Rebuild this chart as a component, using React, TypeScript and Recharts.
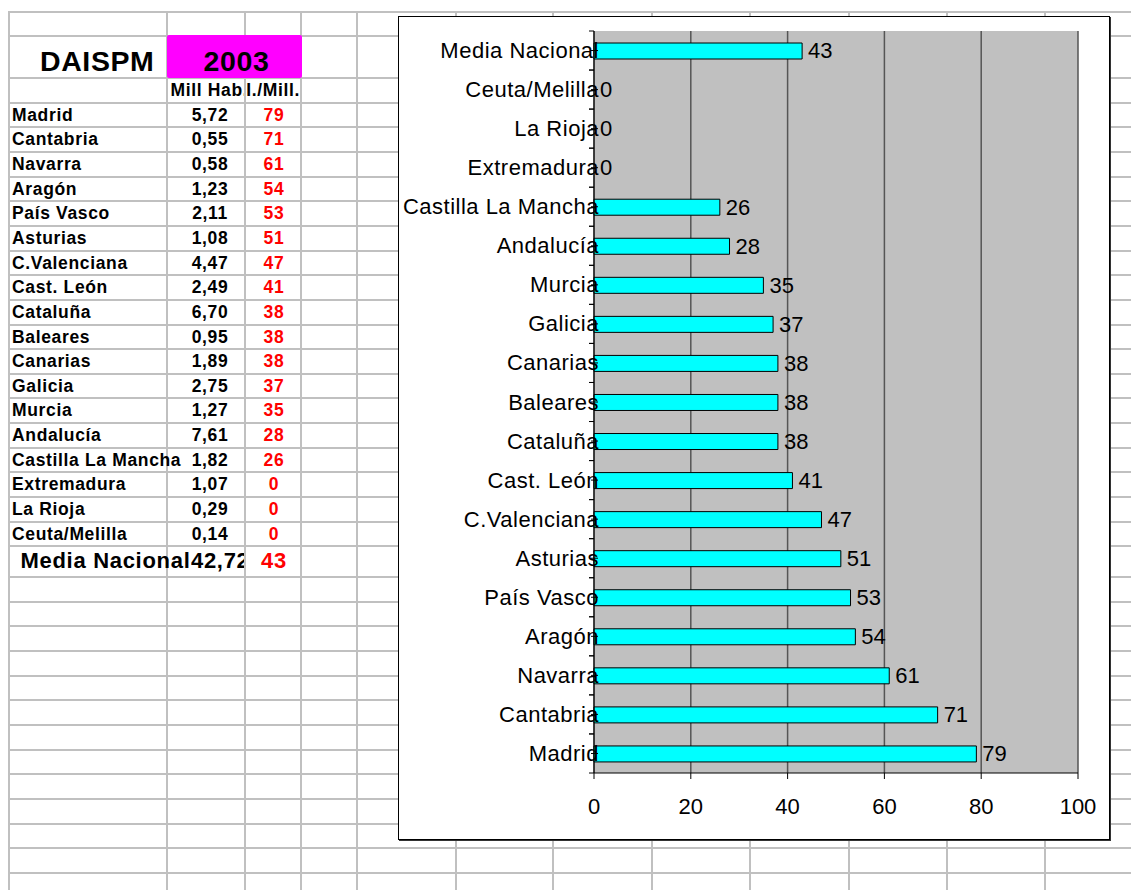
import React from 'react';
import { ComposedChart, Bar, Line, XAxis, YAxis, CartesianGrid, LabelList } from 'recharts';

// DAISPM 2003 per region
const regions = [
  'Madrid', 'Cantabria', 'Navarra', 'Aragón', 'País Vasco', 'Asturias', 'C.Valenciana',
  'Cast. León', 'Cataluña', 'Baleares', 'Canarias', 'Galicia', 'Murcia', 'Andalucía',
  'Castilla La Mancha', 'Extremadura', 'La Rioja', 'Ceuta/Melilla',
];
const millHab = [5.72, 0.55, 0.58, 1.23, 2.11, 1.08, 4.47, 2.49, 6.7, 0.95, 1.89, 2.75, 1.27, 7.61, 1.82, 1.07, 0.29, 0.14];
const perMill = [79, 71, 61, 54, 53, 51, 47, 41, 38, 38, 38, 37, 35, 28, 26, 0, 0, 0];
const mediaName = 'Media Nacional';
const mediaMillHab = 42.72;
const mediaPerMill = 43;
const xTicks = [0, 20, 40, 60, 80, 100];

const chartData = [
  ...regions.map((name, i) => ({ name, value: perMill[i] })),
  { name: mediaName, value: mediaPerMill },
];

const FONT = '"Liberation Sans", Arial, Helvetica, sans-serif';
const GRID = '#c0c0c0';

// sheet layout
const COLS = [9, 167, 245, 301, 357, 456, 553, 652, 750, 849, 947, 1045];
const ROW_H = 24.65;
const FIRST_DATA = 78 + ROW_H;
const MEDIA_TOP = 78 + ROW_H * 19;
const MEDIA_BOTTOM = 577;
const MEDIA_H = MEDIA_BOTTOM - MEDIA_TOP;

const rowLines: number[] = [12, 36, 78];
for (let i = 1; i <= 19; i++) rowLines.push(78 + ROW_H * i);
for (let y = MEDIA_BOTTOM; y < 900; y += ROW_H) rowLines.push(y);

const fmt = (v: number) => v.toFixed(2).replace('.', ',');

const PLOT_H = 742;
const BAND = PLOT_H / chartData.length;

// category label, the between-category tick marks and a small cross mark
const CategoryTick = (props: any) => {
  const { x, y, payload } = props;
  return (
    <g>
      <line x1={x - 5} x2={x} y1={y - BAND / 2} y2={y - BAND / 2} stroke="#000" />
      <line x1={x - 5} x2={x} y1={y + BAND / 2} y2={y + BAND / 2} stroke="#000" />
      <line x1={x - 3} x2={x + 4} y1={y} y2={y} stroke="#000" />
      <text x={x + 5} y={y} textAnchor="end" dominantBaseline="central" fontSize={22} letterSpacing={0.5} fill="#000">
        {payload.value}
      </text>
    </g>
  );
};

const Txt = ({ left, top, width, height, align = 'left', style, children }: any) => (
  <div
    style={{
      position: 'absolute', left, top, width, height, lineHeight: `${height}px`,
      textAlign: align, whiteSpace: 'nowrap', fontWeight: 'bold', fontSize: 17.5,
      letterSpacing: 0.65, ...style,
    }}
  >
    {children}
  </div>
);

export default function App() {
  return (
    <div style={{ position: 'absolute', left: 0, top: 0, width: 1131, height: 890, overflow: 'hidden', background: '#fff', fontFamily: FONT }}>
      {/* sheet grid */}
      {rowLines.map((y, i) => (
        <div key={`r${i}`} style={{ position: 'absolute', left: 8, top: y - 1, width: 1131, height: 2, background: GRID }} />
      ))}
      {COLS.map((x, i) => (
        <div key={`c${i}`} style={{ position: 'absolute', left: x - 1, top: 11, width: 2, height: 890, background: GRID }} />
      ))}

      {/* title cells */}
      <div style={{ position: 'absolute', left: 167, top: 35, width: 135, height: 43, background: '#ff00ff', borderRadius: 2 }} />
      <Txt left={40} top={40} width={125} height={42} style={{ fontSize: 28.5, letterSpacing: 0.6 }}>DAISPM</Txt>
      <Txt left={169} top={40} width={135} height={42} align="center" style={{ fontSize: 28.5, letterSpacing: 0.6 }}>2003</Txt>
      <div style={{ position: 'absolute', left: 170, top: 78, width: 74, height: ROW_H, overflow: 'hidden' }}>
        <Txt left={0.5} top={0} width={90} height={ROW_H}>Mill Hab.</Txt>
      </div>
      <div style={{ position: 'absolute', left: 245, top: 78, width: 56, height: ROW_H, overflow: 'hidden' }}>
        <Txt left={-40} top={0} width={95} height={ROW_H} align="right">I./Mill.</Txt>
      </div>

      {/* region rows */}
      {regions.map((name, i) => {
        const top = FIRST_DATA + ROW_H * i;
        return (
          <React.Fragment key={name}>
            <Txt left={12} top={top} width={200} height={ROW_H}>{name}</Txt>
            <Txt left={170} top={top} width={80} height={ROW_H} align="center">{fmt(millHab[i])}</Txt>
            <Txt left={246} top={top} width={56} height={ROW_H} align="center" style={{ color: '#ff0000' }}>{perMill[i]}</Txt>
          </React.Fragment>
        );
      })}

      {/* national average row */}
      <Txt left={20.5} top={MEDIA_TOP} width={200} height={MEDIA_H} style={{ fontSize: 22, letterSpacing: 0.7 }}>{mediaName}</Txt>
      <div style={{ position: 'absolute', left: 191, top: MEDIA_TOP, width: 53, height: MEDIA_H, overflow: 'hidden' }}>
        <Txt left={0} top={0} width={80} height={MEDIA_H} style={{ fontSize: 22, letterSpacing: 0.7 }}>{fmt(mediaMillHab)}</Txt>
      </div>
      <Txt left={246} top={MEDIA_TOP} width={56} height={MEDIA_H} align="center" style={{ fontSize: 22, color: '#ff0000' }}>{mediaPerMill}</Txt>

      {/* chart */}
      <div style={{ position: 'absolute', left: 398, top: 16, width: 710, height: 822, border: '1px solid #000', background: '#fff', boxShadow: '1px 1px 0 #333' }}>
        <ComposedChart
          width={710}
          height={822}
          data={chartData}
          layout="vertical"
          margin={{ top: 14, right: 31, bottom: 26, left: 0 }}
          style={{ fontFamily: FONT }}
        >
          <CartesianGrid horizontal={false} vertical fill="#c0c0c0" stroke="#555" strokeWidth={1.5} fillOpacity={1} />
          <XAxis
            type="number"
            domain={[0, 100]}
            ticks={xTicks}
            height={40}
            axisLine={{ stroke: '#000' }}
            tickLine={{ stroke: '#000' }}
            tickSize={6}
            tickMargin={19}
            tick={{ fontSize: 22, fill: '#000' }}
          />
          <XAxis
            xAxisId="top"
            orientation="top"
            type="number"
            domain={[0, 100]}
            ticks={xTicks}
            height={0}
            tick={false}
            tickLine={false}
            axisLine={{ stroke: '#808080', strokeWidth: 1.5 }}
          />
          <Bar dataKey="value" fill="#00ffff" stroke="#000" strokeWidth={1} barSize={16} isAnimationActive={false} />
          {/* value labels at the end of each bar, zeros included */}
          <Line dataKey="value" stroke="none" dot={false} activeDot={false} legendType="none" isAnimationActive={false}>
            <LabelList dataKey="value" position="right" offset={6} fill="#000" fontSize={22} />
          </Line>
          <YAxis
            type="category"
            dataKey="name"
            reversed
            width={195}
            interval={0}
            tickSize={0}
            tickMargin={0}
            tickLine={false}
            axisLine={{ stroke: '#000' }}
            tick={<CategoryTick />}
          />
        </ComposedChart>
      </div>
    </div>
  );
}
